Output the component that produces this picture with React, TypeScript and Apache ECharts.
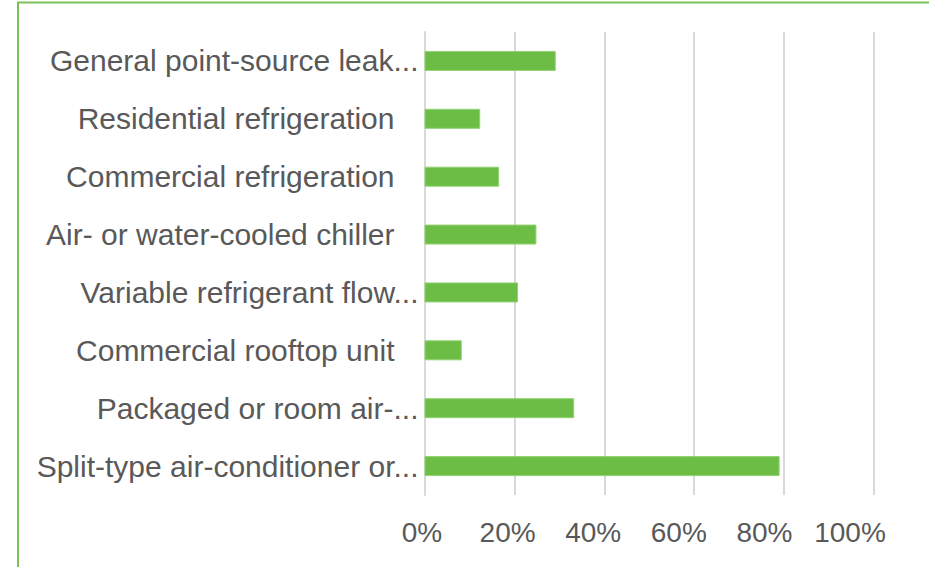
import React, { useEffect, useRef } from "react";
import * as echarts from "echarts";

const categories = [
  "Split-type air-conditioner or...",
  "Packaged or room air-...",
  "Commercial rooftop unit",
  "Variable refrigerant flow...",
  "Air- or water-cooled chiller",
  "Commercial refrigeration",
  "Residential refrigeration",
  "General point-source leak...",
];
const values = [79, 33.3, 8.3, 20.8, 24.9, 16.6, 12.4, 29.2];
const tickValues = [0, 20, 40, 60, 80, 100];

export default function App() {
  const ref = useRef<HTMLDivElement>(null);
  useEffect(() => {
    if (!ref.current) return;
    const chart = echarts.init(ref.current, undefined, { renderer: "svg" });
    const min = tickValues[0];
    const max = tickValues[tickValues.length - 1];
    chart.setOption({
      animation: false,
      backgroundColor: "#ffffff",
      textStyle: { fontFamily: "Liberation Sans" },
      graphic: [
        {
          type: "rect",
          shape: { x: 18, y: 2.5, width: 1200, height: 1200 },
          style: { fill: "none", stroke: "#79c257", lineWidth: 2 },
          silent: true,
        },
      ],
      grid: [
        { left: 424.5, right: 55, top: 32, bottom: 72, containLabel: false },
        { left: 422, right: 79, top: 32, bottom: 72, containLabel: false },
      ],
      xAxis: [
        {
          type: "value",
          gridIndex: 0,
          min,
          max,
          interval: 20,
          axisLine: { show: false },
          axisTick: { show: false },
          splitLine: { show: true, lineStyle: { color: "#d9d9d9", width: 2 } },
          axisLabel: { show: false },
        },
        {
          type: "value",
          gridIndex: 1,
          min,
          max,
          interval: 20,
          axisLine: { show: false },
          axisTick: { show: false },
          splitLine: { show: false },
          axisLabel: {
            formatter: (v: number) => v + "%",
            color: "#595959",
            fontSize: 28,
            margin: 23,
            fontFamily: "Liberation Sans",
          },
        },
      ],
      yAxis: [
        {
          type: "category",
          gridIndex: 0,
          data: categories,
          axisLine: { show: true, lineStyle: { color: "#d9d9d9", width: 2 } },
          axisTick: { show: false },
          axisLabel: {
            color: "#595959",
            fontSize: 30,
            margin: 6,
            fontFamily: "Liberation Sans",
            formatter: (v: string) => (v.endsWith("...") ? "{t|" + v + "}" : "{n|" + v + "}"),
            rich: {
              t: { color: "#595959", fontSize: 30, fontFamily: "Liberation Sans" },
              n: { color: "#595959", fontSize: 30, fontFamily: "Liberation Sans", padding: [0, 24, 0, 0] },
            },
          },
        },
        {
          type: "category",
          gridIndex: 1,
          data: categories,
          show: false,
        },
      ],
      series: [
        {
          type: "bar",
          xAxisIndex: 0,
          yAxisIndex: 0,
          data: values,
          barWidth: 20,
          itemStyle: { color: "#6cbd45", borderColor: "#93d274", borderWidth: 1 },
        },
      ],
    });
    return () => chart.dispose();
  }, []);
  return (
    <div
      ref={ref}
      style={{ position: "fixed", left: 0, top: 0, width: 929, height: 567 }}
    />
  );
}
